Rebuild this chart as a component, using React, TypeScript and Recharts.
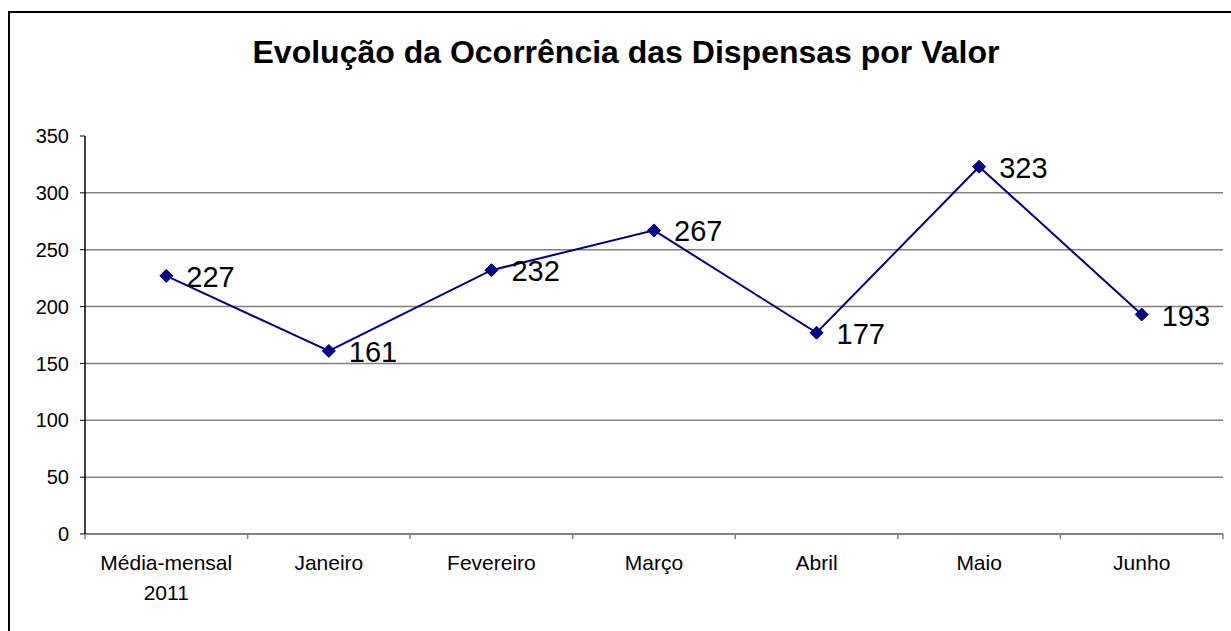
import { LineChart, Line, XAxis, YAxis, CartesianGrid, LabelList } from "recharts";

const categories = ["Média-mensal 2011", "Janeiro", "Fevereiro", "Março", "Abril", "Maio", "Junho"];
const dispensas = [227, 161, 232, 267, 177, 323, 193];
const yTicks = [0, 50, 100, 150, 200, 250, 300, 350];
const gridValues = [50, 100, 150, 200, 250, 300];

const data = categories.map((c, i) => ({ mes: c, valor: dispensas[i] }));

const FONT = "'Liberation Sans', Arial, sans-serif";

function Diamond(props: any) {
  const { cx, cy } = props;
  if (cx == null || cy == null) return null;
  const r = 6.5;
  return (
    <polygon
      points={`${cx},${cy - r} ${cx + r},${cy} ${cx},${cy + r} ${cx - r},${cy}`}
      fill="#000080"
      stroke="#000080"
    />
  );
}

function CategoryTick(props: any) {
  const { x, y, payload, index } = props;
  const half = payload?.offset ?? 81.3;
  const lines = String(payload.value).split(" ");
  const left = x - half;
  return (
    <g>
      <line x1={left} y1={y - 8} x2={left} y2={y - 3} stroke="#808080" strokeWidth={1.5} />
      {index === categories.length - 1 && (
        <line x1={x + half} y1={y - 8} x2={x + half} y2={y - 3} stroke="#808080" strokeWidth={1.5} />
      )}
      <text x={x} y={y + 28} textAnchor="middle" fontFamily={FONT} fontSize={21} fill="#000">
        {lines.map((l, i) => (
          <tspan key={i} x={x} dy={i === 0 ? 0 : 30}>
            {l}
          </tspan>
        ))}
      </text>
    </g>
  );
}

export default function App() {
  return (
    <div style={{ position: "fixed", left: 0, top: 0, width: 1231, height: 631, overflow: "hidden", background: "#fff" }}>
      <div
        style={{
          position: "absolute",
          left: 8,
          top: 11,
          width: 1240,
          height: 640,
          borderLeft: "2px solid #000",
          borderTop: "2px solid #000",
        }}
      />
      <div
        style={{
          position: "absolute",
          left: 0,
          top: 34,
          width: 1231,
          textAlign: "center",
          fontFamily: FONT,
          fontWeight: "bold",
          fontSize: 32,
          paddingLeft: 21,
          boxSizing: "border-box",
        }}
      >
        Evolução da Ocorrência das Dispensas por Valor
      </div>
      <div style={{ position: "absolute", left: 0, top: 0 }}>
        <LineChart width={1231} height={631} data={data} margin={{ top: 136, right: 8, bottom: 0, left: 0 }}>
          <CartesianGrid
            vertical={false}
            horizontalValues={gridValues}
            stroke="#808080"
            strokeWidth={1.5}
          />
          <XAxis
            dataKey="mes"
            scale="band"
            interval={0}
            axisLine={{ stroke: "#808080", strokeWidth: 2 }}
            tickLine={false}
            tick={<CategoryTick />}
            height={97}
          />
          <YAxis
            domain={[0, 350]}
            ticks={yTicks}
            width={85}
            axisLine={{ stroke: "#000", strokeWidth: 1.5 }}
            tickLine={{ stroke: "#000" }}
            tickSize={5}
            tickMargin={11}
            tick={{ fontFamily: FONT, fontSize: 20, fill: "#000" }}
          />
          <Line
            type="linear"
            dataKey="valor"
            stroke="#000080"
            strokeWidth={2}
            dot={<Diamond />}
            activeDot={false}
            isAnimationActive={false}
          >
            <LabelList
              dataKey="valor"
              content={(p: any) => (
                <text
                  x={p.x + 20}
                  y={p.y + 1}
                  dominantBaseline="central"
                  fontFamily={FONT}
                  fontSize={29}
                  fill="#000"
                >
                  {p.value}
                </text>
              )}
            />
          </Line>
        </LineChart>
      </div>
    </div>
  );
}
